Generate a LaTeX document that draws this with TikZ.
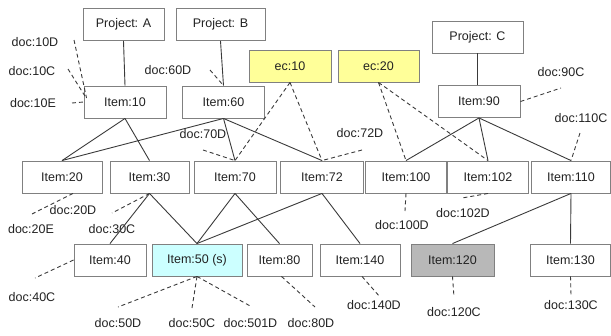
\documentclass[tikz,border=0pt]{standalone}
\usepackage{fontspec}
\setmainfont{Liberation Sans}
\definecolor{boxline}{HTML}{808080}
\definecolor{wire}{HTML}{3A3A3A}
\definecolor{ecfill}{HTML}{FFFF99}
\definecolor{selfill}{HTML}{CCFFFF}
\definecolor{greyfill}{HTML}{B8B8B8}
\definecolor{txt}{HTML}{222222}
\tikzset{
  box/.style={draw=boxline, line width=0.9pt, fill=white, minimum height=32pt,
    inner sep=0pt, text=txt, font=\fontsize{12.5}{14}\selectfont},
  doclabel/.style={inner sep=0pt, text=txt, font=\fontsize{12.5}{14}\selectfont},
  link/.style={draw=wire, line width=0.9pt},
  ref/.style={draw=wire, line width=0.9pt, dash pattern=on 4pt off 3pt}
}
\begin{document}
\begin{tikzpicture}[x=1pt,y=-1pt]
\useasboundingbox (0,0) rectangle (611,335);

% top row
\node[box, minimum width=81pt] (pa) at (123.5,24.5) {Project: A};
\node[box, minimum width=89pt] (pb) at (220.5,24.5) {Project: B};
\node[box, minimum width=82pt, fill=ecfill] (ec10) at (290,66) {ec:10};
\node[box, minimum width=81pt, fill=ecfill] (ec20) at (378.5,66) {ec:20};
\node[box, minimum width=91pt] (pc) at (477.5,37) {Project: C};

% first item row
\node[box, minimum width=82pt] (i10) at (125,102) {Item:10};
\node[box, minimum width=82pt] (i60) at (223.5,102) {Item:60};
\node[box, minimum width=82pt] (i90) at (479,101.5) {Item:90};

% second item row
\node[box, minimum width=80pt] (i20) at (62,177) {Item:20};
\node[box, minimum width=79pt] (i30) at (149.5,177) {Item:30};
\node[box, minimum width=82pt] (i70) at (235,177) {Item:70};
\node[box, minimum width=83pt] (i72) at (322,177) {Item:72};
\node[box, minimum width=81pt] (i100) at (406,177) {Item:100};
\node[box, minimum width=81pt] (i102) at (488,177) {Item:102};
\node[box, minimum width=79pt] (i110) at (571,177) {Item:110};

% third item row
\node[box, minimum width=72pt] (i40) at (110,260) {Item:40};
\node[box, minimum width=90pt, fill=selfill] (i50) at (197,260) {Item:50 (s)};
\node[box, minimum width=65pt] (i80) at (279.5,260) {Item:80};
\node[box, minimum width=80pt] (i140) at (360,260) {Item:140};
\node[box, minimum width=83pt, fill=greyfill] (i120) at (452.5,260) {Item:120};
\node[box, minimum width=80pt] (i130) at (570.5,260) {Item:130};

% document labels
\node[doclabel] (d10D) at (35,42) {doc:10D};
\node[doclabel] (d10C) at (32,71) {doc:10C};
\node[doclabel] (d10E) at (33,103) {doc:10E};
\node[doclabel] (d60D) at (168,70) {doc:60D};
\node[doclabel] (d70D) at (203,134) {doc:70D};
\node[doclabel] (d72D) at (360,133) {doc:72D};
\node[doclabel] (d90C) at (561,72) {doc:90C};
\node[doclabel] (d110C) at (581,118) {doc:110C};
\node[doclabel] (d20D) at (73,210) {doc:20D};
\node[doclabel] (d20E) at (31,229) {doc:20E};
\node[doclabel] (d30C) at (112,229) {doc:30C};
\node[doclabel] (d40C) at (32,297) {doc:40C};
\node[doclabel] (d50D) at (118,323) {doc:50D};
\node[doclabel] (d50C) at (192,323) {doc:50C};
\node[doclabel] (d501D) at (250.5,323) {doc:501D};
\node[doclabel] (d80D) at (311,323) {doc:80D};
\node[doclabel] (d100D) at (402,225) {doc:100D};
\node[doclabel] (d102D) at (463,213) {doc:102D};
\node[doclabel] (d140D) at (374,305) {doc:140D};
\node[doclabel] (d120C) at (454,312) {doc:120C};
\node[doclabel] (d130C) at (571,305) {doc:130C};

% free ends of the document references
\coordinate (e10D) at (74,40);
\coordinate (e10C) at (68,69);
\coordinate (e10E) at (72,103);
\coordinate (e60D) at (210,70);
\coordinate (e70D) at (203,150);
\coordinate (e72D) at (362,150);
\coordinate (e90C) at (561,88);
\coordinate (e110C) at (580,133);
\coordinate (e20D) at (32,214);
\coordinate (e30C) at (112,213);
\coordinate (e40C) at (35,278);
\coordinate (e50D) at (118,307);
\coordinate (e50C) at (192,308);
\coordinate (e501D) at (252,307);
\coordinate (e80D) at (315,307);
\coordinate (e140D) at (380,297);
\coordinate (e100D) at (405,211);
\coordinate (e102D) at (462,198);
\coordinate (e120C) at (454,297);
\coordinate (e130C) at (571,295);

% hierarchy links
\draw[link] (pa.south) -- ([xshift=1.5pt]pa.south |- i10.north);
\draw[link] (pb.south) -- (i60.north);
\draw[link] (pc.south) -- (pc.south |- i90.north);
\draw[link] (i10.south) -- (i20.north);
\draw[link] (i10.south) -- (i30.north);
\draw[link] (i60.south) -- (i20.north);
\draw[link] (i60.south) -- (i70.north);
\draw[link] (i60.south) -- (i72.north);
\draw[link] (i90.south) -- (i100.north);
\draw[link] (i90.south) -- (i102.north);
\draw[link] (i90.south) -- (i110.north);
\draw[link] (i30.south) -- (i40.north);
\draw[link] (i30.south) -- (i50.north);
\draw[link] (i70.south) -- (i50.north);
\draw[link] (i70.south) -- (i80.north);
\draw[link] (i72.south) -- (i50.north);
\draw[link] (i72.south) -- (i140.north);
\draw[link] (i110.south) -- (i120.north);
\draw[link] (i110.south) -- (i130.north);

% change links
\draw[ref] (ec10.south) -- (i70.north);
\draw[ref] (ec10.south) -- (i72.north);
\draw[ref] (ec20.south) -- (i100.north);
\draw[ref] (ec20.south) -- (i102.north);

% document references
\draw[ref] (e10D) -- ([shift={(3,-4)}]i10.west);
\draw[ref] (e10C) -- ([shift={(2,-5)}]i10.west);
\draw[ref] (e10E) -- (i10.west);
\draw[ref] (e60D) -- (i60.north);
\draw[ref] (e70D) -- (i70.north);
\draw[ref] (e72D) -- (i72.north);
\draw[ref] (i90.east) -- (e90C);
\draw[ref] (e110C) -- (i110.north);
\draw[ref] ([xshift=11pt]i20.south) -- (e20D);
\draw[ref] (i30.south) -- (e30C);
\draw[ref] (i40.west) -- (e40C);
\draw[ref] (i50.south) -- (e50D);
\draw[ref] (i50.south) -- (e50C);
\draw[ref] (i50.south) -- (e501D);
\draw[ref] ([xshift=2pt]i80.south) -- (e80D);
\draw[ref] ([xshift=2pt]i140.south) -- (e140D);
\draw[ref] (i100.south) -- (e100D);
\draw[ref] (i102.south) -- (e102D);
\draw[ref] (i120.south) -- (e120C);
\draw[ref] (i130.south) -- (e130C);
\end{tikzpicture}
\end{document}
